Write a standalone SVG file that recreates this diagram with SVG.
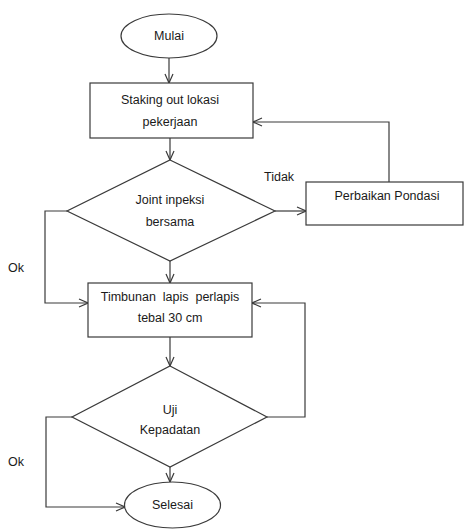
<svg xmlns="http://www.w3.org/2000/svg" width="466" height="530" viewBox="0 0 466 530">
<defs>
<marker id="arr" viewBox="0 0 10 10" refX="10" refY="5" markerWidth="10" markerHeight="10" markerUnits="userSpaceOnUse" orient="auto">
<path d="M1,1 L10,5 L1,9" fill="none" stroke="#3a3a3a" stroke-width="1.2"/>
</marker>
<style>
.s{fill:#fff;stroke:#3a3a3a;stroke-width:1.2}
.c{fill:none;stroke:#3a3a3a;stroke-width:1.2}
text{font-family:"Liberation Sans","Open Sans",sans-serif;font-size:12.5px;fill:#1a1a1a;white-space:pre}
.m{text-anchor:middle}
</style>
</defs>
<rect width="466" height="530" fill="#fff"/>
<g id="connectors">
<line class="c" x1="169" y1="58" x2="169" y2="83" marker-end="url(#arr)"/>
<line class="c" x1="170" y1="138" x2="170" y2="160" marker-end="url(#arr)"/>
<line class="c" x1="275" y1="211" x2="306" y2="211" marker-end="url(#arr)"/>
<polyline class="c" points="389,182 389,122 253,122" marker-end="url(#arr)"/>
<polyline class="c" points="67,211 45,211 45,303 88,303" marker-end="url(#arr)"/>
<line class="c" x1="170" y1="261" x2="170" y2="283" marker-end="url(#arr)"/>
<line class="c" x1="170" y1="337" x2="170" y2="366" marker-end="url(#arr)"/>
<polyline class="c" points="267,417 305,417 305,303 252,303" marker-end="url(#arr)"/>
<line class="c" x1="170" y1="467" x2="170" y2="482" marker-end="url(#arr)"/>
<polyline class="c" points="72,417 46,417 46,507 125,507" marker-end="url(#arr)"/>
</g>
<g id="mulai">
<ellipse class="s" cx="169" cy="36" rx="48" ry="22"/>
<text class="m" x="169" y="40">Mulai</text>
</g>
<g id="staking">
<rect class="s" x="90" y="83" width="163" height="55"/>
<text class="m" x="170" y="104">Staking out lokasi</text>
<text class="m" x="170" y="126">pekerjaan</text>
</g>
<g id="joint">
<polygon class="s" points="170,160 275,211 170,261 67,211"/>
<text class="m" x="170" y="204">Joint inpeksi</text>
<text class="m" x="170" y="226">bersama</text>
</g>
<g id="perbaikan">
<rect class="s" x="306" y="182" width="157" height="43"/>
<text class="m" x="387" y="200">Perbaikan Pondasi</text>
</g>
<g id="timbunan">
<rect class="s" x="88" y="283" width="164" height="54"/>
<text class="m" x="170" y="301" xml:space="preserve">Timbunan  lapis  perlapis</text>
<text class="m" x="170" y="322">tebal 30 cm</text>
</g>
<g id="uji">
<polygon class="s" points="170,366 267,417 170,467 72,417"/>
<text class="m" x="170" y="414">Uji</text>
<text class="m" x="170" y="434">Kepadatan</text>
</g>
<g id="selesai">
<ellipse class="s" cx="172.5" cy="505" rx="48" ry="23"/>
<text class="m" x="172.5" y="509">Selesai</text>
</g>
<g id="labels">
<text x="264" y="181">Tidak</text>
<text x="8" y="272">Ok</text>
<text x="8" y="466">Ok</text>
</g>
</svg>
